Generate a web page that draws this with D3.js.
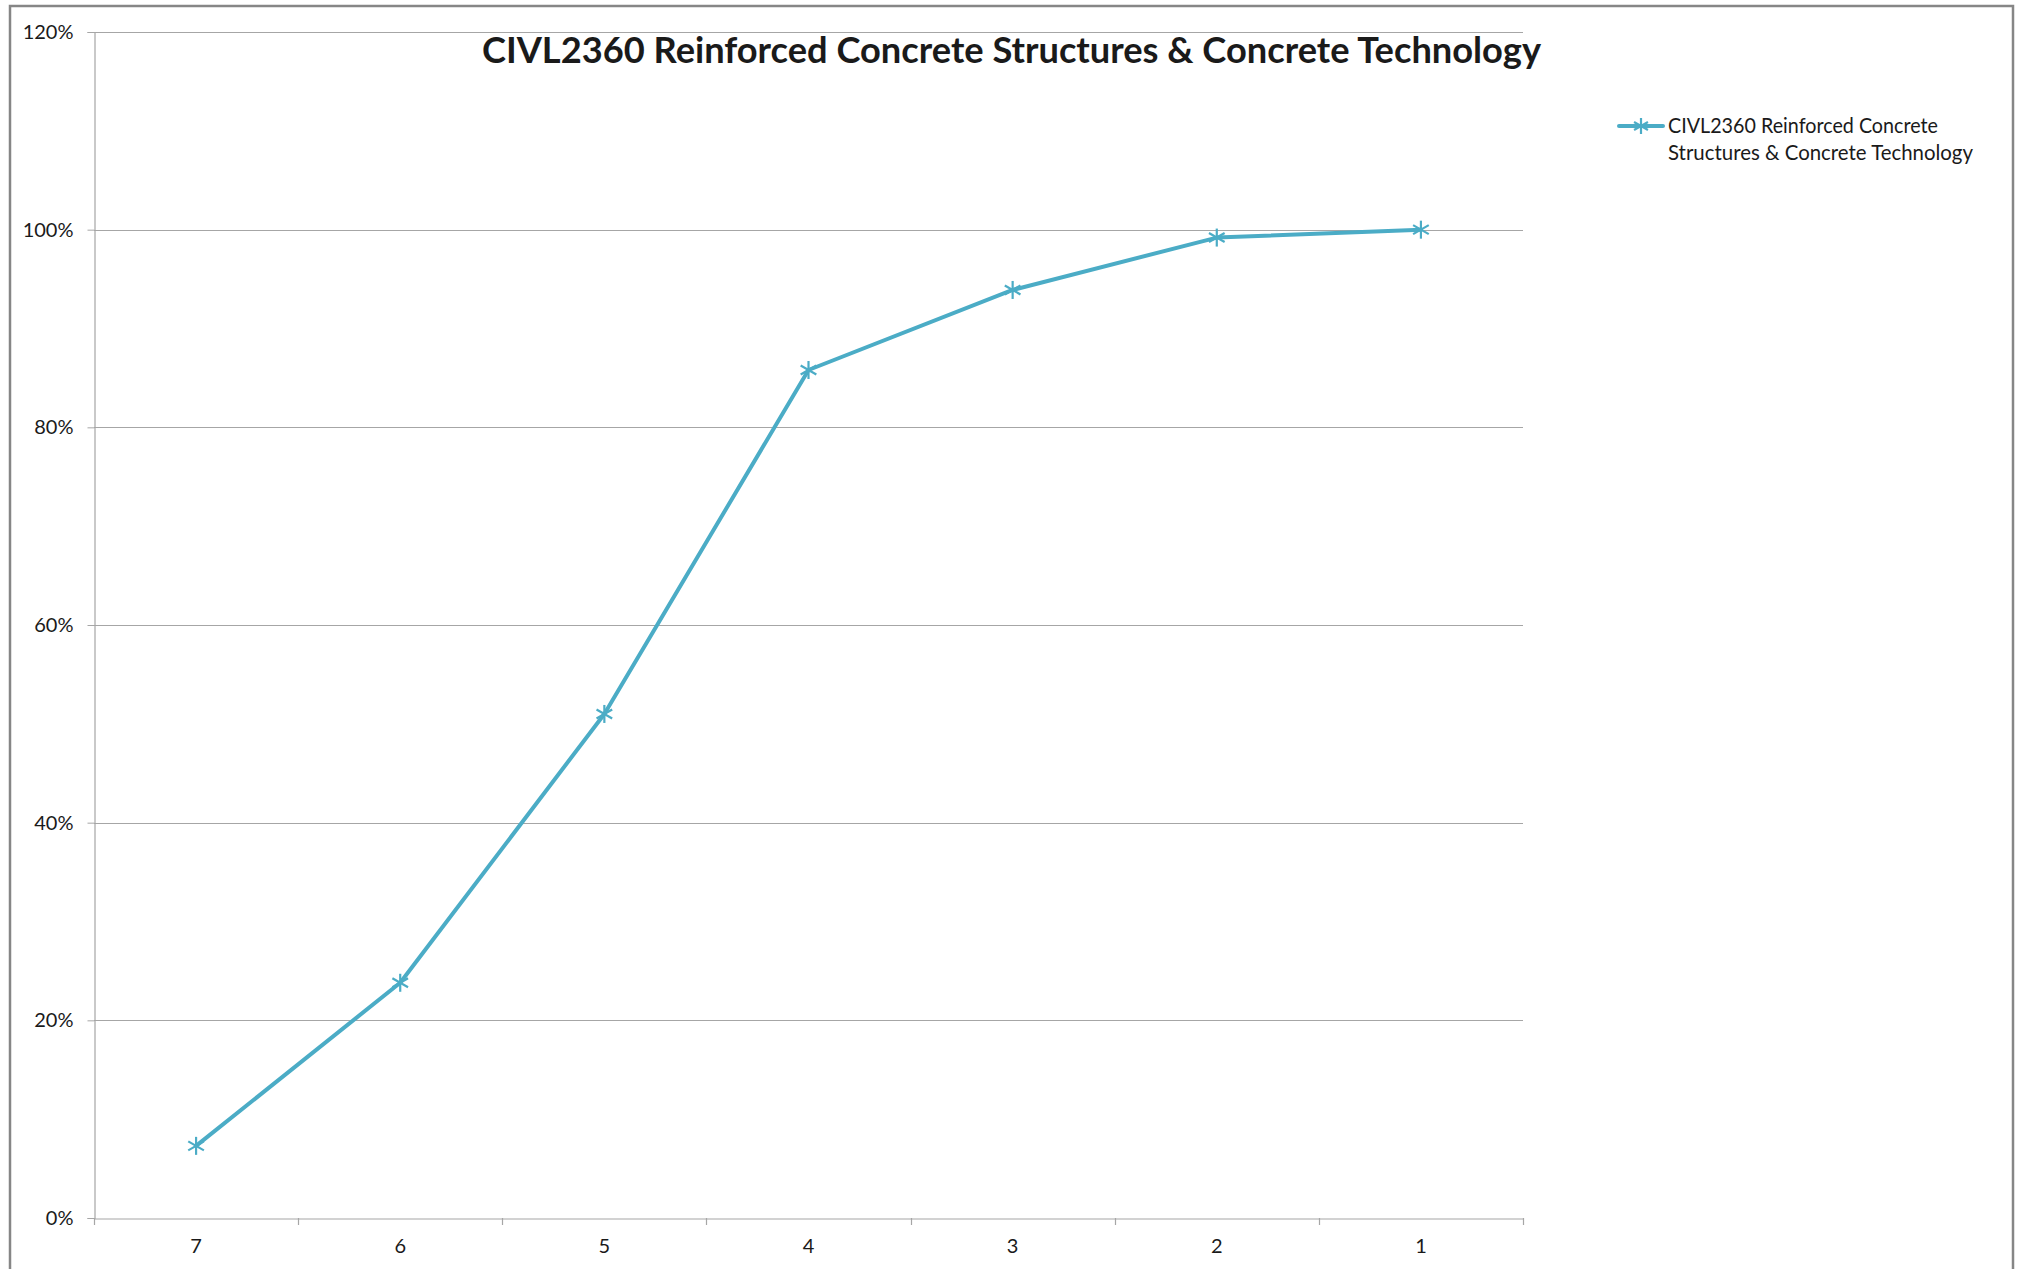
<!DOCTYPE html>
<html>
<head>
<meta charset="utf-8">
<script src="https://cdn.jsdelivr.net/npm/d3@7"></script>
<style>
  html, body { margin: 0; padding: 0; background: #fff; }
  svg { display: block; }
  text { font-family: Lato, "Open Sans", sans-serif; fill: #1a1a1a; }
</style>
</head>
<body>
<script>
const categories = ["7", "6", "5", "4", "3", "2", "1"];
const seriesName = "CIVL2360 Reinforced Concrete Structures & Concrete Technology";
const values = [0.073, 0.238, 0.510, 0.858, 0.939, 0.992, 1.000];
const yTicks = [0, 0.2, 0.4, 0.6, 0.8, 1.0, 1.2];
const chartTitle = "CIVL2360 Reinforced Concrete Structures & Concrete Technology";
const legendLines = ["CIVL2360 Reinforced Concrete", "Structures & Concrete Technology"];

const W = 2017, H = 1269;
const plot = { left: 94, right: 1523, top: 32, bottom: 1218 };
const color = "#4BACC6";

const svg = d3.select("body").append("svg").attr("width", W).attr("height", H);

// outer chart border
svg.append("rect").attr("x", 10).attr("y", 6).attr("width", 2003).attr("height", H + 20)
  .attr("fill", "#fff").attr("stroke", "#868686").attr("stroke-width", 2.5);

const x = d3.scaleBand().domain(categories).range([plot.left, plot.right]).padding(0);
const y = d3.scaleLinear().domain([0, 1.2]).range([plot.bottom, plot.top]);

// gridlines
svg.append("g").selectAll("line").data(yTicks.filter(d => d > 0)).join("line")
  .attr("x1", plot.left).attr("x2", plot.right)
  .attr("y1", d => Math.round(y(d)) + 0.5).attr("y2", d => Math.round(y(d)) + 0.5)
  .attr("stroke", "#a6a6a6").attr("stroke-width", 1.2);

// y axis
const yAxis = svg.append("g").attr("transform", `translate(${plot.left + 0.5},0)`)
  .call(d3.axisLeft(y).tickValues(yTicks).tickFormat(d3.format(".0%")).tickSize(7).tickPadding(14));
yAxis.select(".domain").attr("stroke", "#a6a6a6").attr("stroke-width", 1.2);
yAxis.selectAll(".tick line").attr("stroke", "#a6a6a6");
yAxis.selectAll("text").style("font-size", "20px").attr("fill", "#1a1a1a")
  .style("font-family", "Lato, 'Open Sans', sans-serif");

// x axis
const xAxis = svg.append("g").attr("transform", `translate(0,${plot.bottom + 0.5})`)
  .call(d3.axisBottom(x).tickSize(0).tickPadding(20));
xAxis.select(".domain").attr("stroke", "#a6a6a6").attr("stroke-width", 1.2);
xAxis.selectAll("text").style("font-size", "20px").attr("fill", "#1a1a1a")
  .style("font-family", "Lato, 'Open Sans', sans-serif");
// boundary tick marks between categories
const bounds = categories.map(c => x(c)).concat([plot.right]);
svg.append("g").selectAll("line").data(bounds).join("line")
  .attr("x1", d => Math.round(d) + 0.5).attr("x2", d => Math.round(d) + 0.5)
  .attr("y1", plot.bottom).attr("y2", plot.bottom + 7)
  .attr("stroke", "#a6a6a6").attr("stroke-width", 1.2);

// line
const line = d3.line().x((d, i) => x(categories[i]) + x.bandwidth() / 2).y(d => y(d));
svg.append("path").datum(values).attr("d", line)
  .attr("fill", "none").attr("stroke", color).attr("stroke-width", 4)
  .attr("stroke-linejoin", "round").attr("stroke-linecap", "round");

// star markers
function star(g, cx, cy, r) {
  const pts = [[0, -r, 0, r], [-r * 0.87, -r * 0.5, r * 0.87, r * 0.5], [-r * 0.87, r * 0.5, r * 0.87, -r * 0.5]];
  pts.forEach(p => g.append("line")
    .attr("x1", cx + p[0]).attr("y1", cy + p[1]).attr("x2", cx + p[2]).attr("y2", cy + p[3])
    .attr("stroke", color).attr("stroke-width", 2.2));
}
const mk = svg.append("g");
values.forEach((v, i) => star(mk, x(categories[i]) + x.bandwidth() / 2, y(v), 9));

// title
svg.append("text").attr("x", 482).attr("y", 63)
  .attr("textLength", 1059).attr("lengthAdjust", "spacingAndGlyphs")
  .style("font-size", "36px").style("font-weight", "bold").attr("fill", "#000").text(chartTitle);

// legend
const lg = svg.append("g");
lg.append("line").attr("x1", 1619).attr("x2", 1663).attr("y1", 126).attr("y2", 126)
  .attr("stroke", color).attr("stroke-width", 4).attr("stroke-linecap", "round");
star(lg, 1641, 126, 8);
const legendWidths = [270, 305];
legendLines.forEach((t, i) => {
  lg.append("text").attr("x", 1668).attr("y", 133 + i * 27)
    .attr("textLength", legendWidths[i]).attr("lengthAdjust", "spacingAndGlyphs")
    .style("font-size", "21px").attr("fill", "#1a1a1a").text(t);
});
</script>
</body>
</html>
